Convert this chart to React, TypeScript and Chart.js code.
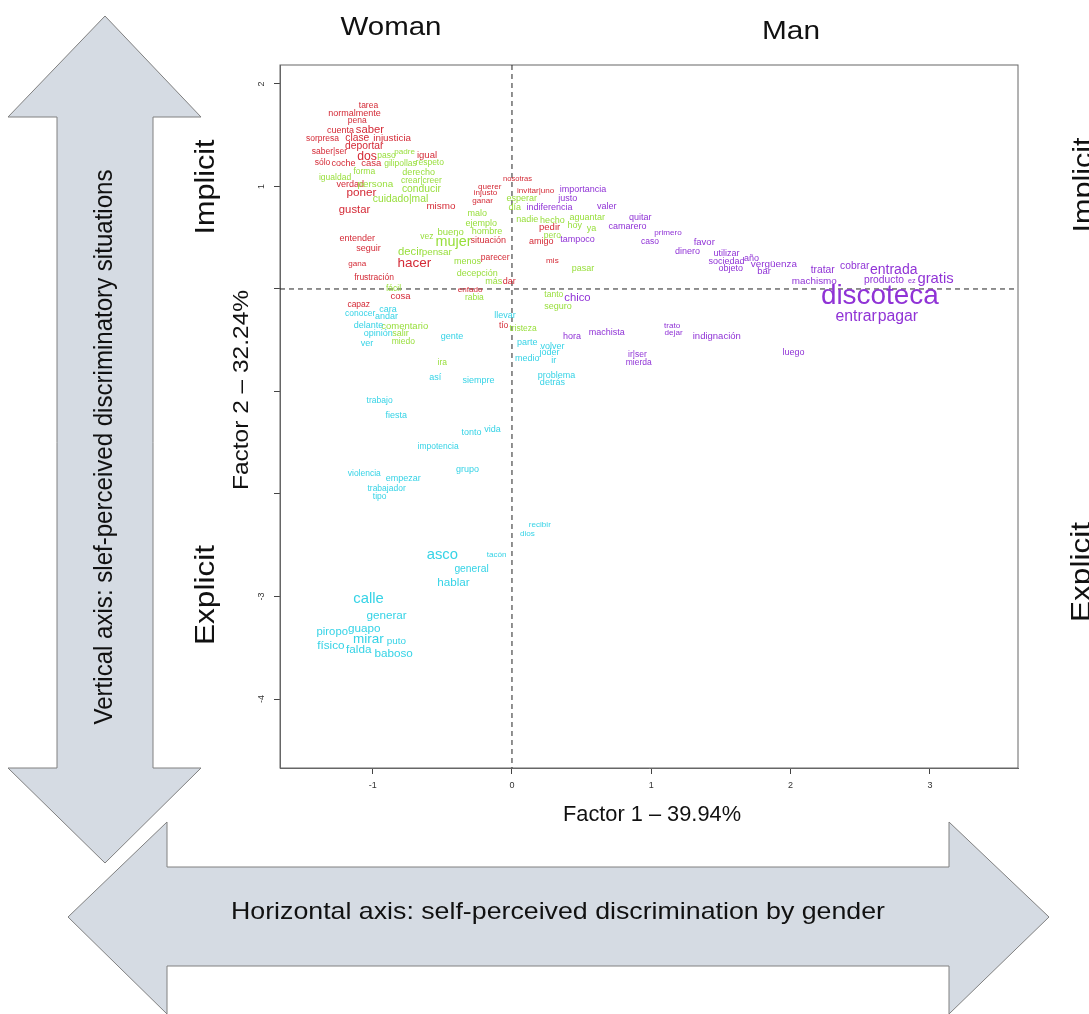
import React, { useEffect, useRef } from 'react';
import { Chart, registerables } from 'chart.js';
Chart.register(...registerables);

const FONT = '"Liberation Sans", Arial, Helvetica, sans-serif';

// ---- axis ranges & ticks ----
const X_MIN = -1.665;
const X_MAX = 3.632;
const Y_MIN = -4.673;
const Y_MAX = 2.185;
const Y_TICK_LABELS = [2, 1, -3, -4];

// ---- word groups (factor coordinates, relative text size) ----
const redWords = ['tarea','normalmente','pena','cuenta','saber','sorpresa','clase','injusticia','deportar','saber|ser','dos','igual','sólo','coche','casa','verdad','poner','mismo','gustar','entender','situación','seguir','hacer','gana','parecer','frustración','dar','enfado','cosa','capaz','nosotras','querer','invitar|uno','injusto','ganar','pedir','amigo','mis','tío'];
const redX = [-1.03,-1.13,-1.11,-1.23,-1.02,-1.36,-1.11,-0.86,-1.06,-1.31,-1.04,-0.61,-1.36,-1.21,-1.01,-1.16,-1.08,-0.51,-1.13,-1.11,-0.17,-1.03,-0.70,-1.11,-0.12,-0.99,-0.02,-0.30,-0.80,-1.10,0.04,-0.16,0.17,-0.19,-0.21,0.27,0.21,0.29,-0.06];
const redY = [1.79,1.71,1.64,1.55,1.55,1.47,1.47,1.47,1.39,1.34,1.29,1.30,1.23,1.22,1.23,1.02,0.94,0.81,0.77,0.49,0.47,0.39,0.25,0.25,0.31,0.11,0.07,-0.01,-0.07,-0.15,1.07,1.00,0.96,0.94,0.86,0.60,0.46,0.28,-0.36];
const redCex = [0.95,1,0.95,1,1.25,0.95,1.15,1.1,1.15,0.95,1.35,1.05,0.95,1,1.05,1,1.3,1.1,1.25,1,1,1,1.5,0.9,0.95,0.95,1,0.9,1.05,0.95,0.85,0.9,0.9,0.9,0.9,1.05,1,0.9,0.95];

const greenWords = ['paso','padre','gilipollas','respeto','igualdad','forma','derecho','persona','crear|creer','conducir','cuidado|mal','malo','ejemplo','vez','bueno','mujer','hombre','decir','pensar','menos','decepción','más','fácil','rabia','esperar','día','nadie','hecho','aguantar','hoy','ya','pero','pasar','tanto','seguro','tristeza','comentario','salir','miedo','ira'];
const greenX = [-0.90,-0.77,-0.80,-0.59,-1.27,-1.06,-0.67,-0.98,-0.65,-0.65,-0.80,-0.25,-0.22,-0.61,-0.44,-0.42,-0.18,-0.73,-0.54,-0.32,-0.25,-0.13,-0.85,-0.27,0.07,0.02,0.11,0.29,0.54,0.45,0.57,0.29,0.51,0.30,0.33,0.08,-0.77,-0.80,-0.78,-0.50];
const greenY = [1.30,1.34,1.22,1.23,1.09,1.14,1.14,1.02,1.06,0.97,0.88,0.74,0.64,0.51,0.55,0.46,0.56,0.36,0.36,0.27,0.15,0.07,0.00,-0.08,0.88,0.79,0.68,0.67,0.70,0.62,0.59,0.52,0.20,-0.06,-0.17,-0.39,-0.36,-0.43,-0.51,-0.72];
const greenCex = [0.95,0.9,0.95,0.95,0.95,0.95,1,1.1,0.95,1.15,1.15,1,1,0.95,1.05,1.6,1,1.25,1.1,1,1,1,0.95,0.95,1,1,1,1,1,1,1,0.95,1,0.95,1,0.95,1.05,1,0.95,0.95];

const cyanWords = ['cara','conocer','andar','delante','opinión','ver','gente','así','siempre','llevar','parte','volver','joder','medio','ir','problema','detrás','trabajo','fiesta','tonto','vida','impotencia','grupo','violencia','empezar','trabajador','tipo','recibir','dios','asco','tacón','general','hablar','calle','generar','piropo','guapo','mirar','puto','físico','falda','baboso'];
const cyanX = [-0.89,-1.09,-0.90,-1.03,-0.96,-1.04,-0.43,-0.55,-0.24,-0.05,0.11,0.29,0.27,0.11,0.30,0.32,0.29,-0.95,-0.83,-0.29,-0.14,-0.53,-0.32,-1.06,-0.78,-0.90,-0.95,0.20,0.11,-0.50,-0.11,-0.29,-0.42,-1.03,-0.90,-1.29,-1.06,-1.03,-0.83,-1.30,-1.10,-0.85];
const cyanY = [-0.20,-0.24,-0.27,-0.36,-0.43,-0.53,-0.46,-0.86,-0.89,-0.26,-0.52,-0.56,-0.62,-0.68,-0.70,-0.84,-0.91,-1.09,-1.23,-1.40,-1.37,-1.54,-1.76,-1.80,-1.85,-1.95,-2.03,-2.30,-2.39,-2.59,-2.59,-2.73,-2.87,-3.02,-3.19,-3.35,-3.31,-3.42,-3.44,-3.48,-3.52,-3.56];
const cyanCex = [1,0.95,1,1,1,1,1,1,1,1,1,1,1,1,1,1,1,0.95,1,1,1,0.95,1,0.95,1,0.95,0.95,0.9,0.9,1.65,0.9,1.15,1.3,1.65,1.3,1.25,1.3,1.5,1.1,1.3,1.3,1.3];

const purpleWords = ['importancia','justo','valer','indiferencia','quitar','camarero','tampoco','primero','caso','favor','dinero','utilizar','año','sociedad','vergüenza','objeto','bar','tratar','cobrar','entrada','machismo','producto','ez','gratis','discoteca','entrar','pagar','chico','hora','machista','trato','dejar','indignación','ir|ser','mierda','luego'];
const purpleX = [0.51,0.40,0.68,0.27,0.92,0.83,0.47,1.12,0.99,1.38,1.26,1.54,1.72,1.54,1.88,1.57,1.81,2.23,2.46,2.74,2.17,2.67,2.87,3.04,2.64,2.47,2.77,0.47,0.43,0.68,1.15,1.16,1.47,0.90,0.91,2.02];
const purpleY = [0.97,0.88,0.80,0.79,0.70,0.61,0.48,0.55,0.46,0.45,0.37,0.35,0.30,0.27,0.24,0.20,0.17,0.18,0.22,0.18,0.08,0.09,0.08,0.10,-0.07,-0.27,-0.27,-0.09,-0.46,-0.42,-0.36,-0.43,-0.46,-0.64,-0.72,-0.62];
const purpleCex = [1,1,1,1,1,1,1,0.9,0.95,1.05,1,1,1,1,1.1,1,1.05,1.15,1.15,1.55,1.1,1.15,0.8,1.65,3.1,1.75,1.75,1.25,1,1,0.9,0.9,1.05,0.95,0.95,1];

const GROUPS = [
  { words: redWords, xs: redX, ys: redY, cex: redCex, color: '#D42A36' },
  { words: greenWords, xs: greenX, ys: greenY, cex: greenCex, color: '#97DE3A' },
  { words: cyanWords, xs: cyanX, ys: cyanY, cex: cyanCex, color: '#36D3E6' },
  { words: purpleWords, xs: purpleX, ys: purpleY, cex: purpleCex, color: '#9033D6' },
];

const BASE_PX = 9;
const ARROW_FILL = '#D5DBE3';
const ARROW_STROKE = '#808080';

function fitText(ctx: CanvasRenderingContext2D, text: string, cx: number, cy: number, size: number, width: number, rot: number, color = '#111') {
  ctx.save();
  ctx.translate(cx, cy);
  ctx.rotate(rot);
  ctx.font = `${size}px ${FONT}`;
  const w = ctx.measureText(text).width;
  ctx.scale(width / w, 1);
  ctx.fillStyle = color;
  ctx.textAlign = 'center';
  ctx.textBaseline = 'middle';
  ctx.fillText(text, 0, 0);
  ctx.restore();
}

function poly(ctx: CanvasRenderingContext2D, pts: number[][]) {
  ctx.beginPath();
  pts.forEach((p, i) => (i ? ctx.lineTo(p[0], p[1]) : ctx.moveTo(p[0], p[1])));
  ctx.closePath();
}

const decorPlugin = {
  id: 'decor',
  beforeDraw(chart: any) {
    const ctx: CanvasRenderingContext2D = chart.ctx;
    ctx.save();
    ctx.fillStyle = '#fff';
    ctx.fillRect(0, 0, chart.width, chart.height);
    // vertical double arrow
    poly(ctx, [[105,16],[201,117],[153,117],[153,768],[201,768],[105,863],[8,768],[57,768],[57,117],[8,117]]);
    ctx.fillStyle = ARROW_FILL; ctx.fill();
    ctx.strokeStyle = ARROW_STROKE; ctx.lineWidth = 1; ctx.stroke();
    // horizontal double arrow
    poly(ctx, [[68,917],[167,822],[167,867],[949,867],[949,822],[1049,917],[949,1014],[949,966],[167,966],[167,1014]]);
    ctx.strokeStyle = '#fff'; ctx.lineWidth = 5; ctx.stroke();
    ctx.fillStyle = ARROW_FILL; ctx.fill();
    ctx.strokeStyle = ARROW_STROKE; ctx.lineWidth = 1; ctx.stroke();
    ctx.restore();

    const up = -Math.PI / 2;
    fitText(ctx, 'Vertical axis: slef-perceived discriminatory situations', 105, 447, 25, 555, up);
    fitText(ctx, 'Horizontal axis: self-perceived discrimination by gender', 558, 912, 24, 654, 0);
    fitText(ctx, 'Woman', 391, 28, 26, 101, 0);
    fitText(ctx, 'Man', 791, 32, 26, 58, 0);
    fitText(ctx, 'Implicit', 206, 187, 28, 95, up);
    fitText(ctx, 'Explicit', 206, 595, 28, 100, up);
    fitText(ctx, 'Implicit', 1084, 185, 28, 95, up);
    fitText(ctx, 'Explicit', 1082, 572, 28, 100, up);
    fitText(ctx, 'Factor 1 \u2013 39.94%', 652, 815, 22, 178, 0);
    fitText(ctx, 'Factor 2 \u2013 32.24%', 242, 390, 22, 200, up);
  },
  beforeDatasetsDraw(chart: any) {
    const ctx: CanvasRenderingContext2D = chart.ctx;
    const { left, right, top, bottom } = chart.chartArea;
    const x0 = chart.scales.x.getPixelForValue(0);
    const y0 = chart.scales.y.getPixelForValue(0);
    ctx.save();
    ctx.strokeStyle = '#666';
    ctx.lineWidth = 1;
    ctx.strokeRect(left, top, right - left, bottom - top);
    ctx.strokeStyle = '#222';
    ctx.setLineDash([5, 4]);
    ctx.beginPath();
    ctx.moveTo(x0, top); ctx.lineTo(x0, bottom);
    ctx.moveTo(left, y0); ctx.lineTo(right, y0);
    ctx.stroke();
    ctx.restore();
  },
  afterDatasetsDraw(chart: any) {
    const ctx: CanvasRenderingContext2D = chart.ctx;
    ctx.save();
    ctx.textAlign = 'center';
    ctx.textBaseline = 'middle';
    GROUPS.forEach((g, di) => {
      const meta = chart.getDatasetMeta(di);
      meta.data.forEach((el: any, i: number) => {
        ctx.font = `${(BASE_PX * g.cex[i]).toFixed(1)}px ${FONT}`;
        ctx.fillStyle = g.color;
        ctx.fillText(g.words[i], el.x, el.y);
      });
    });
    // rotated y tick labels
    const ys = chart.scales.y;
    ctx.fillStyle = '#333';
    ctx.font = `9px ${FONT}`;
    Y_TICK_LABELS.forEach((v) => {
      ctx.save();
      ctx.translate(ys.left + 12, ys.getPixelForValue(v));
      ctx.rotate(-Math.PI / 2);
      ctx.fillText(String(v), 0, 0);
      ctx.restore();
    });
    ctx.restore();
  },
};

export default function App() {
  const ref = useRef<HTMLCanvasElement>(null);
  useEffect(() => {
    const canvas = ref.current;
    if (!canvas) return;
    const chart = new Chart(canvas, {
      type: 'scatter',
      data: {
        datasets: GROUPS.map((g) => ({
          label: g.color,
          data: g.xs.map((x, i) => ({ x, y: g.ys[i] })),
          pointRadius: 0,
          pointHoverRadius: 0,
          backgroundColor: g.color,
        })),
      },
      options: {
        responsive: false,
        devicePixelRatio: 1,
        animation: false,
        events: [],
        layout: { padding: { left: 250, top: 65, right: 71, bottom: 216 } },
        plugins: { legend: { display: false }, tooltip: { enabled: false } },
        scales: {
          x: {
            type: 'linear',
            min: X_MIN,
            max: X_MAX,
            afterFit: (s: any) => { s.height = 30; },
            ticks: { stepSize: 1, includeBounds: false, color: '#333', padding: 6, font: { size: 9, family: FONT } },
            grid: { drawOnChartArea: false, drawTicks: true, tickLength: 6, color: '#444' },
            border: { display: true, color: '#666' },
          },
          y: {
            type: 'linear',
            min: Y_MIN,
            max: Y_MAX,
            afterFit: (s: any) => { s.width = 30; },
            ticks: { display: false, stepSize: 1, includeBounds: false },
            grid: { drawOnChartArea: false, drawTicks: true, tickLength: 6, color: '#444' },
            border: { display: true, color: '#666' },
          },
        },
      },
      plugins: [decorPlugin],
    } as any);
    return () => chart.destroy();
  }, []);
  return (
    <div style={{ position: 'absolute', left: 0, top: 0, width: 1089, height: 1014, background: '#fff' }}>
      <canvas ref={ref} width={1089} height={1014} style={{ display: 'block', width: 1089, height: 1014 }} />
    </div>
  );
}
